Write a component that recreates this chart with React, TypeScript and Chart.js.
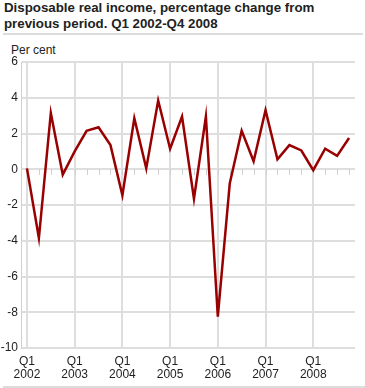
import React, { useEffect, useRef } from 'react';
import { Chart, registerables } from 'chart.js';

Chart.register(...registerables);

const categories = [
  '2002Q1', '2002Q2', '2002Q3', '2002Q4',
  '2003Q1', '2003Q2', '2003Q3', '2003Q4',
  '2004Q1', '2004Q2', '2004Q3', '2004Q4',
  '2005Q1', '2005Q2', '2005Q3', '2005Q4',
  '2006Q1', '2006Q2', '2006Q3', '2006Q4',
  '2007Q1', '2007Q2', '2007Q3', '2007Q4',
  '2008Q1', '2008Q2', '2008Q3', '2008Q4',
];

const values = [
  0.05, -3.85, 3.15, -0.3,
  1.0, 2.15, 2.35, 1.35,
  -1.45, 2.85, 0.05, 3.85,
  1.15, 2.95, -1.65, 2.95,
  -8.25, -0.8, 2.15, 0.45,
  3.3, 0.55, 1.35, 1.05,
  -0.05, 1.15, 0.75, 1.75,
];

const tickQuarter = 'Q1';
const tickYears = ['2002', '2003', '2004', '2005', '2006', '2007', '2008'];

const titleLines = ['Disposable real income, percentage change from', 'previous period. Q1 2002-Q4 2008'];
const unitLabel = 'Per cent';

const FONT = '"Liberation Sans", Arial, Helvetica, sans-serif';

const zeroTicks = {
  id: 'zeroTicks',
  beforeDatasetsDraw(chart: any) {
    const { ctx, scales } = chart;
    const x = scales.x;
    const y = scales.y;
    const y0 = Math.round(y.getPixelForValue(0));
    ctx.save();
    ctx.strokeStyle = '#cfcfcf';
    ctx.lineWidth = 1;
    categories.forEach((_, i) => {
      const px = Math.round(x.getPixelForValue(i)) + 0.5;
      ctx.beginPath();
      ctx.moveTo(px, y0);
      ctx.lineTo(px, y0 + 6);
      ctx.stroke();
    });
    ctx.restore();
  },
};

export default function App() {
  const ref = useRef<HTMLCanvasElement | null>(null);

  useEffect(() => {
    if (!ref.current) return;
    const chart = new Chart(ref.current, {
      type: 'line',
      data: {
        labels: categories,
        datasets: [
          {
            data: values,
            borderColor: '#990000',
            borderWidth: 2.5,
            pointRadius: 0,
            tension: 0,
            fill: false,
          },
        ],
      },
      options: {
        animation: false,
        responsive: false,
        maintainAspectRatio: false,
        layout: { padding: { top: 22, right: 10, left: 0, bottom: 0 } },
        plugins: {
          legend: { display: false },
          tooltip: { enabled: false },
          title: { display: false },
        },
        scales: {
          x: {
            type: 'category',
            offset: true,
            grid: {
              offset: false,
              drawTicks: false,
              lineWidth: 2,
              color: (c: any) => (c.index % 4 === 0 ? '#dedede' : 'rgba(0,0,0,0)'),
            },
            border: { display: false },
            ticks: {
              autoSkip: false,
              maxRotation: 0,
              minRotation: 0,
              padding: 7,
              color: '#222',
              font: { family: FONT, size: 12, lineHeight: 1.1 },
              callback: (_v: any, i: number) =>
                i % 4 === 0 ? [tickQuarter, tickYears[i / 4]] : '',
            },
            afterFit: (s: any) => {
              s.height = 40;
            },
          },
          y: {
            min: -10,
            max: 6,
            ticks: {
              stepSize: 2,
              padding: 3,
              color: '#222',
              font: { family: FONT, size: 12 },
            },
            grid: { drawTicks: false, lineWidth: 2, color: '#dedede' },
            border: { display: true, color: '#d0d0d0', width: 1 },
            afterFit: (s: any) => {
              s.width = 21;
            },
          },
        },
      },
      plugins: [zeroTicks],
    });
    return () => chart.destroy();
  }, []);

  return (
    <div
      style={{
        position: 'absolute',
        left: 0,
        top: 0,
        width: 365,
        height: 388,
        background: '#fff',
        fontFamily: FONT,
        color: '#222',
      }}
    >
      <div
        style={{
          position: 'absolute',
          left: 4,
          top: 0,
          fontSize: 13.3,
          fontWeight: 'bold',
          lineHeight: '16px',
          whiteSpace: 'nowrap',
        }}
      >
        {titleLines.map((t) => (
          <div key={t}>{t}</div>
        ))}
      </div>
      <div style={{ position: 'absolute', left: 3, top: 33, width: 360, height: 2, background: '#dcdcdc' }} />
      <div
        style={{
          position: 'absolute',
          left: 11,
          top: 43,
          fontSize: 12,
          lineHeight: '14px',
          whiteSpace: 'nowrap',
        }}
      >
        {unitLabel}
      </div>
      <canvas
        ref={ref}
        width={365}
        height={348}
        style={{ position: 'absolute', left: 0, top: 40, width: 365, height: 348 }}
      />
      <div style={{ position: 'absolute', left: 3, top: 386, width: 362, height: 2, background: '#dcdcdc' }} />
    </div>
  );
}
